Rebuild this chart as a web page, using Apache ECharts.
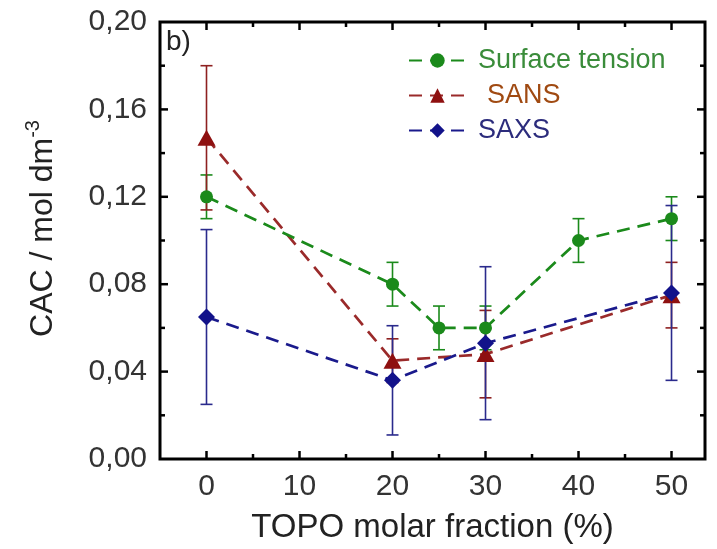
<!DOCTYPE html>
<html>
<head>
<meta charset="utf-8">
<script src="https://cdn.jsdelivr.net/npm/echarts@6/dist/echarts.min.js"></script>
<style>
  html, body { margin: 0; padding: 0; background: #fff; }
  #main { width: 717px; height: 549px; }
</style>
</head>
<body>
<div id="main"></div>
<script>
// CAC vs TOPO molar fraction, panel b)
const xST = [0, 20, 25, 30, 40, 50];
const yST = [0.12, 0.08, 0.06, 0.06, 0.10, 0.11];
const eST = [0.01, 0.01, 0.01, 0.01, 0.01, 0.01];

const xSANS = [0, 20, 30, 50];
const ySANS = [0.147, 0.045, 0.048, 0.075];
const eSANS = [0.033, 0.01, 0.02, 0.015];

const xSAXS = [0, 20, 30, 50];
const ySAXS = [0.065, 0.036, 0.053, 0.076];
const eSAXS = [0.04, 0.025, 0.035, 0.04];

const xTicks = [0, 10, 20, 30, 40, 50];
const xMinorTicks = [5, 15, 25, 35, 45];
const yTicks = [0.04, 0.08, 0.12, 0.16];
const yMinorTicks = [0.02, 0.06, 0.10, 0.14, 0.18];

const X_MIN = -5, X_MAX = 53.6, Y_MIN = 0, Y_MAX = 0.2;

const FONT = "'Liberation Sans', Arial, sans-serif";
const cGreen = '#1b8a1b', cRed = '#8e1010', cBlue = '#12128a';

var myChart = echarts.init(document.getElementById('main'));

function pts(xs, ys) {
  return xs.map((x, i) => [x, ys[i]]);
}
function bars(xs, ys, es) {
  return xs.map((x, i) => [x, ys[i] - es[i], ys[i] + es[i]]);
}

// error bars through the axis scales
function errSeries(name, data, color) {
  return {
    name: name,
    type: 'custom',
    data: data,
    z: 2,
    silent: true,
    encode: { x: 0, y: [1, 2] },
    renderItem: function (params, api) {
      const x = api.value(0);
      const lo = api.coord([x, api.value(1)]);
      const hi = api.coord([x, api.value(2)]);
      const w = 6;
      const st = { stroke: color, lineWidth: 1.6 };
      return {
        type: 'group',
        children: [
          { type: 'line', shape: { x1: lo[0], y1: lo[1], x2: hi[0], y2: hi[1] }, style: st },
          { type: 'line', shape: { x1: hi[0] - w, y1: hi[1], x2: hi[0] + w, y2: hi[1] }, style: st },
          { type: 'line', shape: { x1: lo[0] - w, y1: lo[1], x2: lo[0] + w, y2: lo[1] }, style: st }
        ]
      };
    }
  };
}

// inward ticks on all four sides of the frame
function tickSeries(name, values, len, vertical) {
  return {
    name: name,
    type: 'custom',
    silent: true,
    z: 3,
    data: values.map(v => vertical ? [0, v] : [v, 0.1]),
    encode: { x: 0, y: 1 },
    renderItem: function (params, api) {
      const st = { stroke: '#000', lineWidth: 2.5 };
      if (vertical) {
        const v = api.value(1);
        const l = api.coord([X_MIN, v]);
        const r = api.coord([X_MAX, v]);
        return { type: 'group', children: [
          { type: 'line', shape: { x1: l[0], y1: l[1], x2: l[0] + len, y2: l[1] }, style: st },
          { type: 'line', shape: { x1: r[0], y1: r[1], x2: r[0] - len, y2: r[1] }, style: st }
        ] };
      }
      const v = api.value(0);
      const b = api.coord([v, Y_MIN]);
      const t = api.coord([v, Y_MAX]);
      return { type: 'group', children: [
        { type: 'line', shape: { x1: b[0], y1: b[1], x2: b[0], y2: b[1] - len }, style: st },
        { type: 'line', shape: { x1: t[0], y1: t[1], x2: t[0], y2: t[1] + len }, style: st }
      ] };
    }
  };
}

var option = {
  animation: false,
  textStyle: { fontFamily: FONT },
  grid: { left: 160, right: 12, top: 22, bottom: 89, show: true, borderColor: '#000', borderWidth: 3, backgroundColor: 'transparent' },
  graphic: [{
    type: 'text', left: 166, top: 28,
    style: { text: 'b)', font: '28px ' + FONT, fill: '#222' }
  }],
  legend: {
    orient: 'vertical',
    left: 403, top: 42,
    itemWidth: 57, itemHeight: 18, itemGap: 8,
    textStyle: { fontSize: 27, fontFamily: FONT, padding: [0, 0, 0, 7] },
    data: [
      { name: 'Surface tension', textStyle: { color: '#3a8c3a' } },
      { name: 'SANS', textStyle: { color: '#a04a12', padding: [0, 0, 0, 16] } },
      { name: 'SAXS', textStyle: { color: '#2c2c7c' } }
    ]
  },
  xAxis: {
    type: 'value', min: X_MIN, max: X_MAX,
    splitLine: { show: false },
    axisLine: { show: false },
    axisTick: { show: false },
    axisLabel: { show: true, customValues: xTicks, margin: 13, fontSize: 30, color: '#333', fontFamily: FONT },
    name: 'TOPO molar fraction (%)',
    nameLocation: 'middle', nameGap: 52,
    nameTextStyle: { fontSize: 33, color: '#222', fontFamily: FONT }
  },
  yAxis: {
    type: 'value', min: Y_MIN, max: Y_MAX, interval: 0.04,
    splitLine: { show: false },
    axisLine: { show: false },
    axisTick: { show: false },
    axisLabel: {
      show: true, margin: 13, fontSize: 30, color: '#333', fontFamily: FONT,
      formatter: v => v.toFixed(2).replace('.', ',')
    },
    name: '{a|CAC / mol dm}{b|-3}',
    nameLocation: 'middle', nameRotate: 90, nameGap: 101,
    nameTextStyle: {
      color: '#222', fontFamily: FONT, padding: [0, 0, 0, 24],
      rich: {
        a: { fontSize: 32, color: '#222', fontFamily: FONT, lineHeight: 36, verticalAlign: 'bottom' },
        b: { fontSize: 20, color: '#222', fontFamily: FONT, lineHeight: 36, verticalAlign: 'top' }
      }
    }
  },
  series: [
    {
      name: 'Surface tension', type: 'line', data: pts(xST, yST), z: 5,
      symbol: 'circle', symbolSize: 13,
      itemStyle: { color: cGreen },
      lineStyle: { color: cGreen, width: 2.7, type: [13, 8] }
    },
    {
      name: 'SANS', type: 'line', data: pts(xSANS, ySANS), z: 4,
      symbol: 'triangle', symbolSize: [18, 16],
      itemStyle: { color: cRed },
      lineStyle: { color: '#9a2a2a', width: 2.7, type: [13, 8] }
    },
    {
      name: 'SAXS', type: 'line', data: pts(xSAXS, ySAXS), z: 6,
      symbol: 'diamond', symbolSize: [17, 17],
      itemStyle: { color: cBlue },
      lineStyle: { color: '#1a1a8c', width: 2.7, type: [13, 8] }
    },
    errSeries('err ST', bars(xST, yST, eST), cGreen),
    errSeries('err SANS', bars(xSANS, ySANS, eSANS), '#8e2020'),
    errSeries('err SAXS', bars(xSAXS, ySAXS, eSAXS), '#2a2a8c'),
    tickSeries('x ticks', xTicks, 8, false),
    tickSeries('x minor ticks', xMinorTicks, 5, false),
    tickSeries('y ticks', yTicks, 8, true),
    tickSeries('y minor ticks', yMinorTicks, 5, true)
  ]
};

myChart.setOption(option);
</script>
</body>
</html>
